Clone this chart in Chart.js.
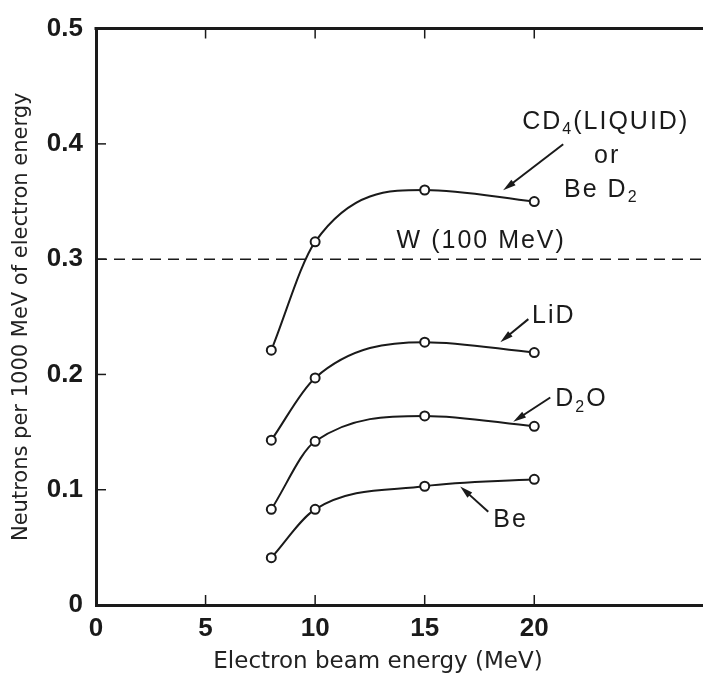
<!DOCTYPE html>
<html>
<head>
<meta charset="utf-8">
<script src="https://cdn.jsdelivr.net/npm/chart.js@4"></script>
<style>
  html, body { margin: 0; padding: 0; background: #fff; }
  #wrap { width: 703px; height: 679px; }
</style>
</head>
<body>
<div id="wrap"><canvas id="neutrons" width="703" height="679"></canvas></div>
<script>
// Data definitions
const beamEnergy = [8, 10, 15, 20];
const cd4Yield = [0.221, 0.315, 0.360, 0.350];
const lidYield = [0.143, 0.197, 0.228, 0.219];
const d2oYield = [0.083, 0.142, 0.164, 0.155];
const beYield = [0.041, 0.083, 0.103, 0.109];
const tungstenLevel = 0.3;
const xTickValues = [0, 5, 10, 15, 20];
const yTickValues = [0, 0.1, 0.2, 0.3, 0.4, 0.5];

const INK = '#1a1a1a';
const LABEL_FONT = '"Liberation Sans", Arial, sans-serif';

function toPoints(ys) {
  return beamEnergy.map((x, i) => ({ x: x, y: ys[i] }));
}

function curve(label, ys) {
  return {
    label: label,
    data: toPoints(ys),
    borderColor: INK,
    borderWidth: 2,
    cubicInterpolationMode: 'monotone',
    pointRadius: 4.5,
    pointBorderWidth: 2,
    pointBorderColor: INK,
    pointBackgroundColor: '#fff'
  };
}

// draws an arrow from (x1,y1) to tip (x2,y2), data coords
function arrow(ctx, xs, ys, x1, y1, x2, y2) {
  const ax = xs.getPixelForValue(x1), ay = ys.getPixelForValue(y1);
  const bx = xs.getPixelForValue(x2), by = ys.getPixelForValue(y2);
  const ang = Math.atan2(by - ay, bx - ax);
  const len = 13, half = 3.5;
  ctx.beginPath();
  ctx.moveTo(ax, ay);
  ctx.lineTo(bx - Math.cos(ang) * len * 0.8, by - Math.sin(ang) * len * 0.8);
  ctx.lineWidth = 2;
  ctx.strokeStyle = INK;
  ctx.stroke();
  ctx.beginPath();
  ctx.moveTo(bx, by);
  ctx.lineTo(bx - Math.cos(ang) * len - Math.sin(ang) * half, by - Math.sin(ang) * len + Math.cos(ang) * half);
  ctx.lineTo(bx - Math.cos(ang) * len + Math.sin(ang) * half, by - Math.sin(ang) * len - Math.cos(ang) * half);
  ctx.closePath();
  ctx.fillStyle = INK;
  ctx.fill();
}

// text with optional subscript parts: [[text, isSub], ...]
function richText(ctx, parts, px, py, align) {
  const big = '25px ' + LABEL_FONT, small = '16px ' + LABEL_FONT;
  let total = 0;
  parts.forEach(p => { ctx.font = p[1] ? small : big; total += ctx.measureText(p[0]).width; });
  let x = align === 'center' ? px - total / 2 : px;
  ctx.textAlign = 'left';
  ctx.textBaseline = 'middle';
  parts.forEach(p => {
    ctx.font = p[1] ? small : big;
    ctx.fillText(p[0], x, p[1] ? py + 8 : py);
    x += ctx.measureText(p[0]).width;
  });
}

const decorPlugin = {
  id: 'decor',
  afterDatasetsDraw(chart) {
    const ctx = chart.ctx;
    const xs = chart.scales.x, ys = chart.scales.y;
    const area = chart.chartArea;
    ctx.save();
    ctx.strokeStyle = INK;
    ctx.fillStyle = INK;

    // top frame line
    ctx.lineWidth = 3;
    ctx.beginPath();
    ctx.moveTo(area.left - 1.5, area.top);
    ctx.lineTo(chart.width, area.top);
    ctx.stroke();

    // inward tick marks
    ctx.lineWidth = 1.5;
    xTickValues.slice(1).forEach(v => {
      const px = xs.getPixelForValue(v);
      ctx.beginPath();
      ctx.moveTo(px, area.bottom); ctx.lineTo(px, area.bottom - 10);
      ctx.moveTo(px, area.top); ctx.lineTo(px, area.top + 10);
      ctx.stroke();
    });
    yTickValues.slice(1, -1).forEach(v => {
      const py = ys.getPixelForValue(v);
      ctx.beginPath();
      ctx.moveTo(area.left, py); ctx.lineTo(area.left + 10, py);
      ctx.stroke();
    });

    // labels
    ctx.letterSpacing = '2px';
    const P = (x, y) => [xs.getPixelForValue(x), ys.getPixelForValue(y)];
    let p = P(19.45, 0.419);
    richText(ctx, [['CD', false], ['4', true], ['(LIQUID)', false]], p[0], p[1], 'left');
    p = P(23.33, 0.389);
    richText(ctx, [['or', false]], p[0], p[1], 'center');
    p = P(23.06, 0.360);
    richText(ctx, [['Be D', false], ['2', true]], p[0], p[1], 'center');
    p = P(17.58, 0.3155);
    richText(ctx, [['W (100 MeV)', false]], p[0], p[1], 'center');
    p = P(19.9, 0.251);
    richText(ctx, [['LiD', false]], p[0], p[1], 'left');
    p = P(20.96, 0.1786);
    richText(ctx, [['D', false], ['2', true], ['O', false]], p[0], p[1], 'left');
    p = P(18.13, 0.074);
    richText(ctx, [['Be', false]], p[0], p[1], 'left');
    ctx.letterSpacing = '0px';

    arrow(ctx, xs, ys, 21.32, 0.3997, 18.58, 0.3597);
    arrow(ctx, xs, ys, 19.73, 0.248, 18.45, 0.228);
    arrow(ctx, xs, ys, 20.73, 0.180, 19.04, 0.159);
    arrow(ctx, xs, ys, 17.9, 0.0808, 16.62, 0.1029);

    // x axis title
    ctx.font = '23px "DejaVu Sans", sans-serif';
    ctx.textAlign = 'center';
    ctx.textBaseline = 'middle';
    ctx.fillStyle = '#222';
    ctx.fillText('Electron beam energy (MeV)', 378, 662);
    ctx.restore();
  }
};

const chartNeutrons = new Chart(document.getElementById('neutrons').getContext('2d'), {
  type: 'line',
  data: {
    datasets: [
      {
        label: 'W (100 MeV)',
        data: [{ x: 0, y: tungstenLevel }, { x: 27.7, y: tungstenLevel }],
        borderColor: INK,
        borderWidth: 1.5,
        borderDash: [11, 7],
        pointRadius: 0
      },
      curve('CD4 (liquid) or BeD2', cd4Yield),
      curve('LiD', lidYield),
      curve('D2O', d2oYield),
      curve('Be', beYield)
    ]
  },
  options: {
    responsive: false,
    animation: false,
    layout: { autoPadding: false, padding: { top: 17, right: 0, left: 0, bottom: 0 } },
    plugins: {
      legend: { display: false },
      tooltip: { enabled: false }
    },
    scales: {
      x: {
        type: 'linear',
        min: 0,
        max: 27.7,
        afterBuildTicks: s => { s.ticks = xTickValues.map(v => ({ value: v })); },
        afterFit: s => { s.height = 74; },
        grid: { display: false, drawTicks: false },
        border: { display: true, width: 3, color: INK },
        ticks: {
          color: INK,
          padding: 8,
          maxRotation: 0,
          font: { family: LABEL_FONT, size: 26, weight: 'bold' },
          callback: v => String(v)
        },
        title: { display: false }
      },
      y: {
        type: 'linear',
        min: 0,
        max: 0.5,
        afterBuildTicks: s => { s.ticks = yTickValues.map(v => ({ value: v })); },
        afterFit: s => { s.width = 96; },
        grid: { display: false, drawTicks: false },
        border: { display: true, width: 3, color: INK },
        ticks: {
          color: INK,
          padding: 13,
          font: { family: LABEL_FONT, size: 26, weight: 'bold' },
          callback: v => (v === 0 ? '0' : v.toFixed(1))
        },
        title: {
          display: true,
          text: 'Neutrons per 1000 MeV of electron energy',
          color: '#222',
          padding: { top: 9, bottom: 0 },
          font: { family: '"DejaVu Sans", sans-serif', size: 21 }
        }
      }
    }
  },
  plugins: [decorPlugin]
});
</script>
</body>
</html>
